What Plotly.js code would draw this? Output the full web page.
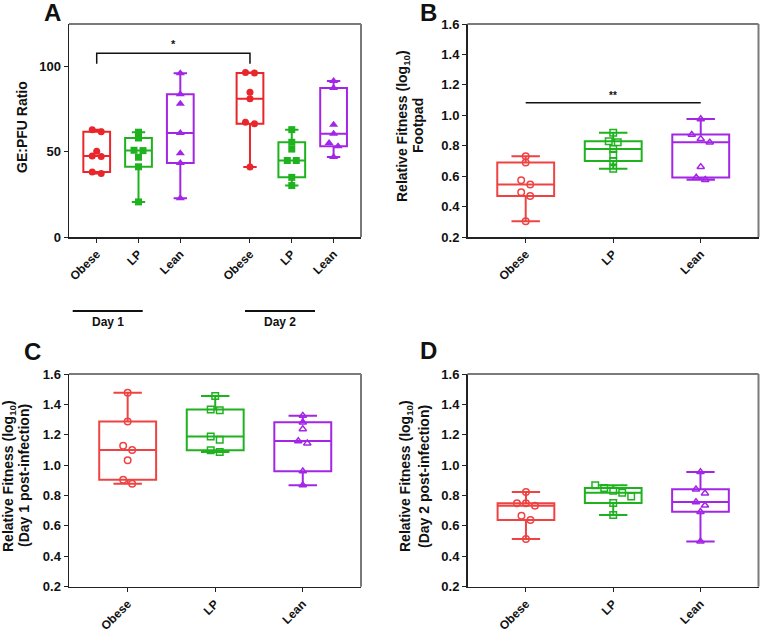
<!DOCTYPE html>
<html><head><meta charset="utf-8">
<script src="https://cdn.plot.ly/plotly-3.0.1.min.js"></script>
<style>html,body{margin:0;padding:0;background:#fff}#chart{width:761px;height:634px}</style>
</head><body><div id="chart"></div>
<script>
// ---------- data ----------
const groupLabels = ['Obese', 'LP', 'Lean'];
const dayLabels = ['Day 1', 'Day 2'];
// Panel A: GE:PFU ratio
const geObeseDay1 = [63.0, 61.8, 50.3, 47.6, 47.2, 38.1, 37.2];
const geLPDay1    = [61.5, 58.1, 50.9, 50.7, 46.8, 41.2, 20.6];
const geLeanDay1  = [96.1, 83.8, 78.2, 61.0, 49.1, 43.5, 22.8];
const geObeseDay2 = [96.6, 96.3, 85.0, 81.1, 67.4, 66.4, 41.1];
const geLPDay2    = [63.0, 55.6, 51.6, 44.9, 44.9, 35.0, 30.2];
const geLeanDay2  = [91.5, 87.5, 65.9, 60.6, 55.1, 53.3, 47.0];
// Panel B: relative fitness, footpad
const fpObese = [0.731, 0.689, 0.573, 0.545, 0.494, 0.470, 0.303];
const fpLP    = [0.885, 0.830, 0.822, 0.779, 0.740, 0.700, 0.648];
const fpLean  = [0.975, 0.873, 0.845, 0.822, 0.661, 0.591, 0.576];
// Panel C: relative fitness, day 1 post-infection
const d1Obese = [1.477, 1.288, 1.128, 1.100, 1.032, 0.904, 0.878];
const d1LP    = [1.455, 1.367, 1.362, 1.188, 1.168, 1.098, 1.087];
const d1Lean  = [1.326, 1.282, 1.238, 1.159, 1.144, 0.960, 0.868];
// Panel D: relative fitness, day 2 post-infection
const d2Obese = [0.823, 0.749, 0.749, 0.733, 0.667, 0.639, 0.514];
const d2LP    = [0.867, 0.850, 0.832, 0.819, 0.793, 0.751, 0.672];
const d2Lean  = [0.955, 0.841, 0.815, 0.757, 0.735, 0.693, 0.498];

// ---------- styling ----------
const W = 761, H = 634;
const colors = ['#e8262b', '#1fb21f', '#a326e6'];
const colorsLight = ['#ef4343', '#1fb21f', '#a326e6'];
const filledSymbols = ['circle', 'square', 'triangle-up'];
const openSymbols = ['circle-open', 'square-open', 'triangle-up-open'];
const FONT = 'Liberation Sans, Arial, Helvetica, sans-serif';

const px = x => x / W;
const py = y => 1 - y / H;

// spread near-equal values side by side
function spread(vals, thr, step, center) {
  const idx = vals.map((v, i) => i).sort((a, b) => vals[b] - vals[a]);
  const xs = new Array(vals.length);
  let cluster = [idx[0]];
  const flush = () => { const k = cluster.length; cluster.forEach((j, m) => { xs[j] = center + (m - (k - 1) / 2) * step; }); };
  for (let n = 1; n < idx.length; n++) {
    const j = idx[n]; const prev = cluster[cluster.length - 1];
    if (vals[prev] - vals[j] < thr) cluster.push(j); else { flush(); cluster = [j]; }
  }
  flush();
  return xs;
}

const traces = [];
function addGroup(vals, pos, ci, axN, filled, boxW, thr, step) {
  const xa = axN === 1 ? 'x' : 'x' + axN, ya = axN === 1 ? 'y' : 'y' + axN;
  const col = filled ? colors[ci] : colorsLight[ci];
  traces.push({
    type: 'box', y: vals, x0: pos, xaxis: xa, yaxis: ya, width: boxW,
    boxpoints: false, quartilemethod: 'exclusive', whiskerwidth: 0.5,
    line: { color: col, width: 2 }, fillcolor: 'rgba(0,0,0,0)', showlegend: false, hoverinfo: 'skip'
  });
  traces.push({
    type: 'scatter', mode: 'markers', x: spread(vals, thr, step, pos), y: vals, xaxis: xa, yaxis: ya,
    marker: filled
      ? { symbol: filledSymbols[ci], size: ci === 2 ? 8 : 7, color: col }
      : { symbol: openSymbols[ci], size: 6.5, color: col, line: { color: col, width: 1.5 } },
    showlegend: false, hoverinfo: 'skip'
  });
}

// Panel A
const aSets = [geObeseDay1, geLPDay1, geLeanDay1, geObeseDay2, geLPDay2, geLeanDay2];
const aPos = aSets.map((s, i) => i + (i >= 3 ? 0.667 : 0));
aSets.forEach((s, i) => addGroup(s, aPos[i], i % 3, 1, true, 0.64, 2.6, 0.215));
// Panels B, C, D
[[fpObese, fpLP, fpLean], [d1Obese, d1LP, d1Lean], [d2Obese, d2LP, d2Lean]].forEach((sets, p) => {
  sets.forEach((s, i) => addGroup(s, i, i, p + 2, false, 0.65, 0.03, 0.103));
});

const xTickFont = { family: FONT, size: 12, color: '#111', weight: 'bold' };
const yTickFont = { family: FONT, size: 13, color: '#111', weight: 'bold' };
function xAxis(domain, range, vals, text, anchor) {
  return { domain, range, tickvals: vals, ticktext: text, tickangle: -45, ticks: 'outside', ticklen: 4,
    tickcolor: '#222', showline: true, linecolor: '#222', linewidth: 1.5, showgrid: false, zeroline: false,
    tickfont: xTickFont, anchor, fixedrange: true };
}
function yAxis(domain, range, vals, fmt, anchor) {
  return { domain, range, tickvals: vals, tickformat: fmt, ticks: 'outside', ticklen: 4, tickcolor: '#222',
    showline: true, linecolor: '#222', linewidth: 1.5, showgrid: false, zeroline: false,
    tickfont: yTickFont, anchor, fixedrange: true };
}
const fitTicks = [0.2, 0.4, 0.6, 0.8, 1.0, 1.2, 1.4, 1.6];
const idx3 = [0, 1, 2];

const domXL = [px(69), px(361)], domXR = [px(467.5), px(758.5)];
const domYT = [py(237), py(24)], domYB = [py(586.7), py(374)];

const layout = {
  width: W, height: H, margin: { l: 0, r: 0, t: 0, b: 0 }, paper_bgcolor: '#fff', plot_bgcolor: '#fff',
  showlegend: false, boxmode: 'overlay',
  xaxis: xAxis(domXL, [-0.663, 6.323], aPos, aSets.map((s, i) => groupLabels[i % 3]), 'y'),
  yaxis: yAxis(domYT, [0, 125], [0, 50, 100], '', 'x'),
  xaxis2: xAxis(domXR, [-0.665, 2.66], idx3, groupLabels, 'y2'),
  yaxis2: yAxis(domYT, [0.2, 1.6], fitTicks, '.1f', 'x2'),
  xaxis3: xAxis(domXL, [-0.67, 2.665], idx3, groupLabels, 'y3'),
  yaxis3: yAxis(domYB, [0.2, 1.6], fitTicks, '.1f', 'x3'),
  xaxis4: xAxis(domXR, [-0.67, 2.665], idx3, groupLabels, 'y4'),
  yaxis4: yAxis(domYB, [0.2, 1.6], fitTicks, '.1f', 'x4'),
  shapes: [], annotations: []
};

// top/right frame lines
['', '2', '3', '4'].forEach(n => {
  const xr = 'x' + n + ' domain', yr = 'y' + n + ' domain';
  layout.shapes.push({ type: 'line', xref: xr, yref: yr, x0: 0, x1: 1, y0: 1, y1: 1, line: { color: '#7a7a7a', width: 2 } });
  layout.shapes.push({ type: 'line', xref: xr, yref: yr, x0: 1, x1: 1, y0: 0, y1: 1, line: { color: '#7a7a7a', width: 2 } });
});

// significance bracket A (Obese day1 vs Obese day2)
layout.shapes.push({ type: 'path', xref: 'x', yref: 'y',
  path: `M ${aPos[0]} 101.6 L ${aPos[0]} 107.8 L ${aPos[3]} 107.8 L ${aPos[3]} 101.6`,
  line: { color: '#111', width: 1.5 } });
layout.annotations.push({ xref: 'x', yref: 'y', x: (aPos[0] + aPos[3]) / 2, y: 108.5, yanchor: 'bottom',
  text: '*', showarrow: false, font: { family: FONT, size: 11, color: '#111', weight: 'bold' } });
// significance line B (Obese vs Lean)
layout.shapes.push({ type: 'line', xref: 'x2', yref: 'y2', x0: 0, x1: 2, y0: 1.082, y1: 1.082, line: { color: '#111', width: 1.5 } });
layout.annotations.push({ xref: 'x2', yref: 'y2', x: 1, y: 1.082, yanchor: 'bottom',
  text: '**', showarrow: false, font: { family: FONT, size: 10, color: '#111', weight: 'bold' } });

// Day group lines and labels under A
[[72.7, 142.7, 107.5], [245, 315, 280]].forEach((d, i) => {
  layout.shapes.push({ type: 'line', xref: 'paper', yref: 'paper', x0: px(d[0]), x1: px(d[1]), y0: py(311), y1: py(311), line: { color: '#111', width: 2 } });
  layout.annotations.push({ xref: 'paper', yref: 'paper', x: px(d[2]), y: py(322), text: dayLabels[i], showarrow: false,
    xanchor: 'center', yanchor: 'middle', font: { family: FONT, size: 12, color: '#111', weight: 'bold' } });
});

// panel letters
[['A', 52, 13], ['B', 428, 13], ['C', 32, 351], ['D', 428, 350]].forEach(l => {
  layout.annotations.push({ xref: 'paper', yref: 'paper', x: px(l[1]), y: py(l[2]), text: l[0], showarrow: false,
    xanchor: 'center', yanchor: 'middle', font: { family: FONT, size: 24, color: '#111', weight: 'bold' } });
});

// y-axis titles
const titleFont = { family: FONT, size: 14, color: '#111', weight: 'bold' };
function vTitle(text, x, y) {
  layout.annotations.push({ xref: 'paper', yref: 'paper', x: px(x), y: py(y), text, textangle: -90, showarrow: false,
    xanchor: 'center', yanchor: 'middle', font: titleFont });
}
vTitle('GE:PFU Ratio', 22, 127);
vTitle('Relative Fitness (log<sub>10</sub>)', 403, 126);
vTitle('Footpad', 418, 126);
vTitle('Relative Fitness (log<sub>10</sub>)', 9, 476);
vTitle('(Day 1 post-infection)', 24, 476);
vTitle('Relative Fitness (log<sub>10</sub>)', 406, 476);
vTitle('(Day 2 post-infection)', 424, 476);

Plotly.newPlot('chart', traces, layout, { staticPlot: true, displayModeBar: false });
</script>
</body></html>
